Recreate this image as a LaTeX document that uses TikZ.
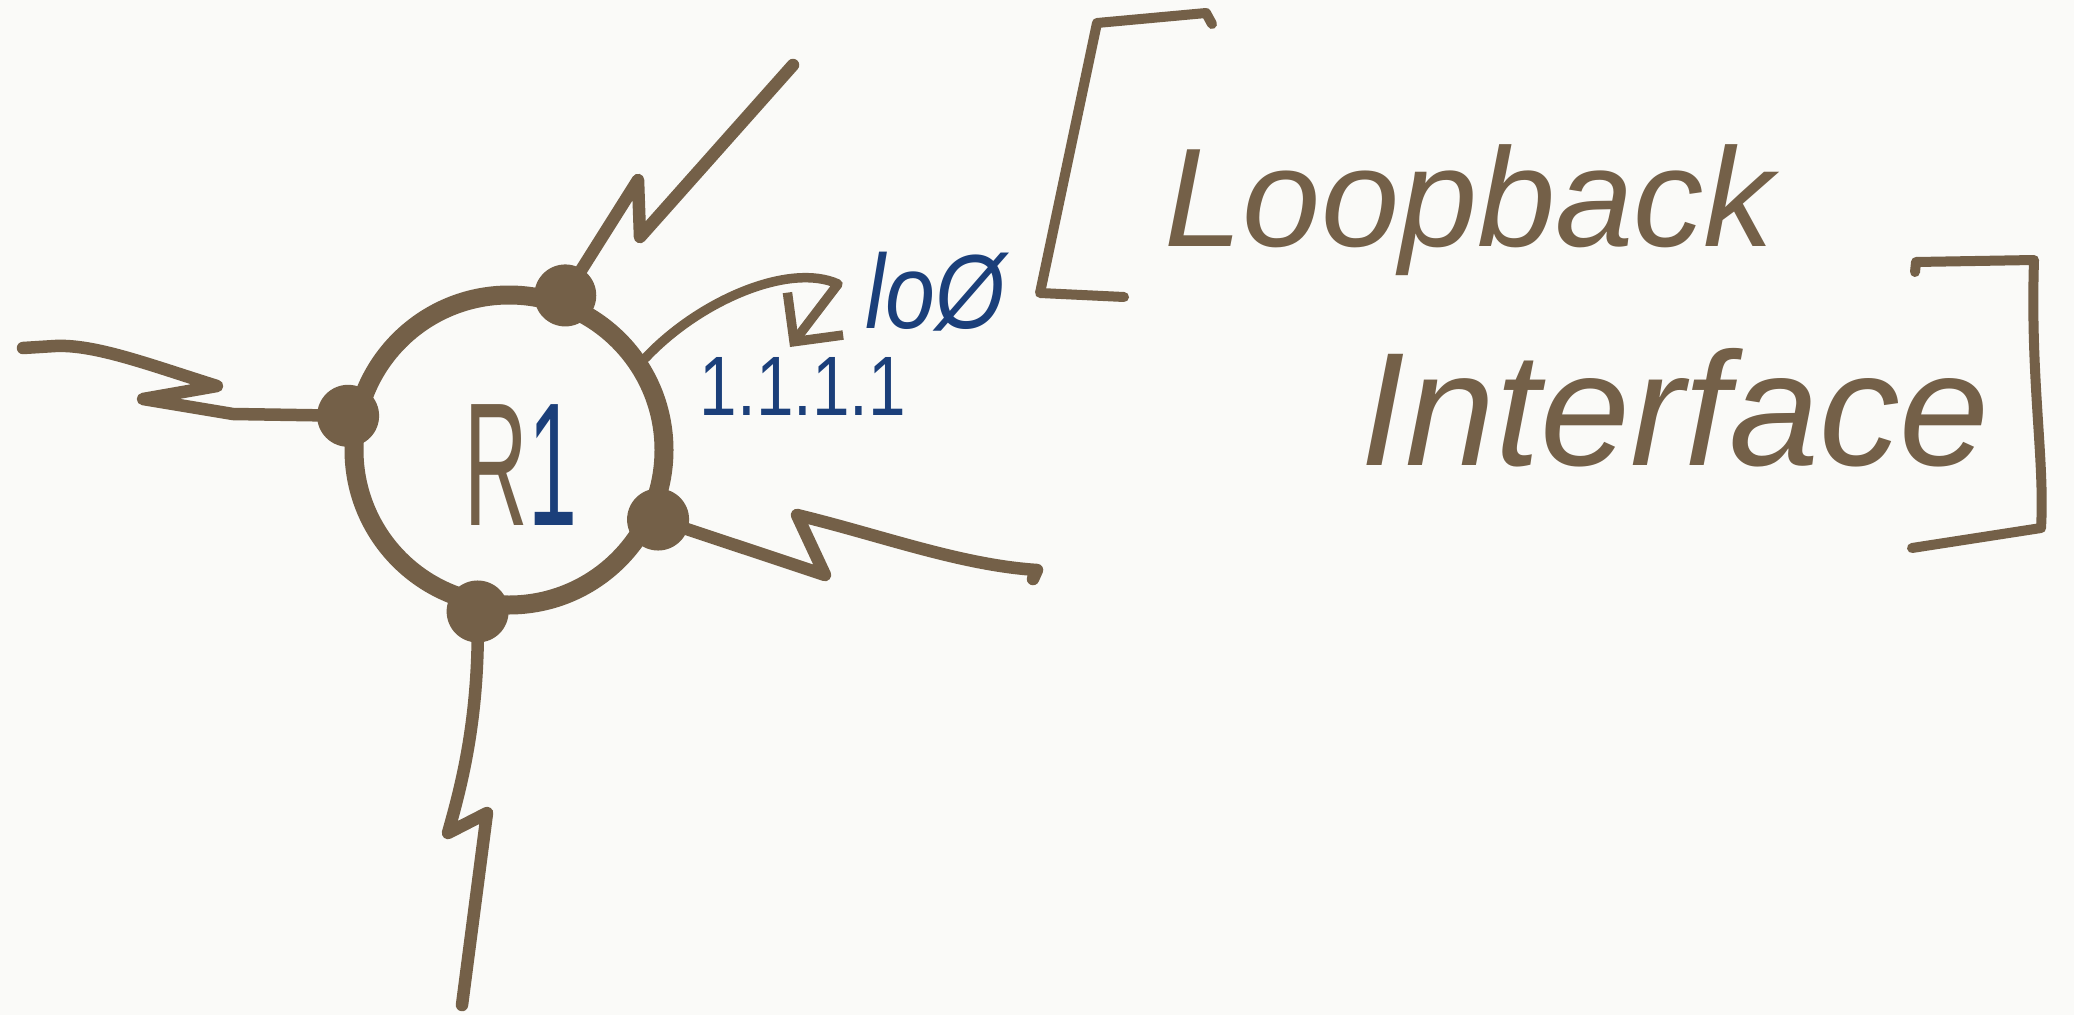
\documentclass[tikz,border=0pt]{standalone}
\usepackage{fontspec}
\setmainfont{Liberation Sans}
\usetikzlibrary{arrows.meta}
\definecolor{ink}{RGB}{116,96,72}
\definecolor{penBlue}{RGB}{27,63,122}
\definecolor{paper}{RGB}{250,250,248}

\begin{document}
\begin{tikzpicture}[
    x=0.1mm, y=-0.1mm,
    router/.style={circle, draw=ink, line width=1.9mm, minimum size=31mm, inner sep=0pt},
    port/.style={circle, fill=ink, minimum size=6.2mm, inner sep=0pt},
    serial/.style={draw=ink, line width=1.25mm, line cap=round, line join=round},
    pointer/.style={draw=ink, line width=0.95mm, line cap=round, line join=round,
        -{Straight Barb[length=3.5mm, width=7mm]}},
    bracket/.style={draw=ink, line width=1mm, line cap=round, line join=round},
    hand/.style={text=ink, inner sep=0pt, anchor=base west},
  ]
    % paper
    \fill[paper] (0,0) rectangle (2074,1015);
    \useasboundingbox (0,0) rectangle (2074,1015);

    % router and its ports
    \node[router] (r1) at (509,450) {};
    \node[font=\fontsize{50}{60}\selectfont, text=ink, inner sep=0pt] (r1lbl) at (521,465)
        {\scalebox{0.5}[1]{R\textcolor{penBlue}{1}}};
    \node[port] (dl) at (r1.168) {};
    \node[port] (dt) at (r1.70) {};
    \node[port] (dr) at (r1.-25) {};
    \node[port] (db) at (r1.-101) {};

    % free ends of the serial links
    \coordinate (lend) at (23,348);
    \coordinate (tend) at (793,65);
    \coordinate (rend) at (1037,570);
    \coordinate (bend) at (462,1005);
    \draw[serial] (dl.center) -- (233,414) -- (143,399) -- (217,386)
        .. controls (150,365) and (95,344) .. (55,346) -- (lend);
    \draw[serial] (dt.center) -- (638,180) -- (640,237) -- (tend);
    \draw[serial] (dr.center) -- (825,575) -- (797,515)
        .. controls (880,535) and (960,565) .. (rend) -- ++(-4,9);
    \draw[serial] (db.center) .. controls (480,720) and (460,790) .. (448,833)
        -- (487,813) -- (bend);

    % loopback
    \node[font=\fontsize{30}{36}\selectfont\itshape, text=penBlue, inner sep=0pt] (lo) at (935,292)
        {\scalebox{0.85}[1]{lo\O}};
    \node[font=\fontsize{24}{28}\selectfont, text=penBlue, inner sep=0pt] (addr) at (803,386)
        {\scalebox{0.8}[1]{1.1.1.1}};
    \coordinate (lotip) at (790,347);
    \draw[pointer] (r1.34) .. controls (700,300) and (790,262) .. (838,284) -- (lotip);

    % brackets and note
    \draw[bracket] (1212,24) -- (1206,13) -- (1097,23) -- (1040,293) -- (1124,297);
    \draw[bracket] (1915,272) -- (1916,262) -- (2034,260)
        .. controls (2030,380) and (2045,460) .. (2041,528) -- (1912,548);
    \node[hand, font=\fontsize{40}{48}\selectfont\itshape] (loop) at (1164,246) {Loopback};
    \node[hand, font=\fontsize{46}{54}\selectfont\itshape] (intf) at (1360,465) {Interface};
\end{tikzpicture}
\end{document}
